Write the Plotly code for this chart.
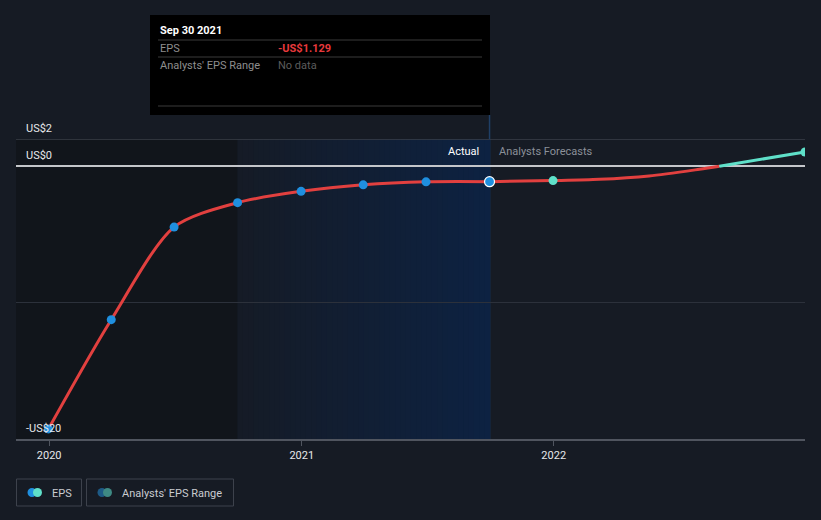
import plotly.graph_objects as go
import pandas as pd

# ---------------- data ----------------
actual_dates = ["2019-12-31", "2020-03-31", "2020-06-30", "2020-09-30",
                "2020-12-31", "2021-03-31", "2021-06-30", "2021-09-30"]
actual_eps = [-19.26, -11.25, -4.46, -2.67, -1.84, -1.36, -1.14, -1.129]

# forecast curve: negative part red, positive part cyan
fc_neg_dates = ["2021-09-30", "2021-12-31", "2022-03-08", "2022-05-19", "2022-07-31", "2022-08-29"]
fc_neg_eps = [-1.129, -1.05, -0.96, -0.71, -0.22, 0.0]
fc_pos_dates = ["2022-08-29", "2022-12-31"]
fc_pos_eps = [0.0, 1.05]
fc_marker_dates = ["2021-12-31", "2022-12-31"]
fc_marker_eps = [-1.05, 1.05]

y_ticks = [2, 0, -20]
y_tick_labels = ["US$2", "US$0", "-US$20"]
y_grid = [2, -10]
x_ticks = ["2020-01-01", "2021-01-01", "2022-01-01"]
x_tick_labels = ["2020", "2021", "2022"]

x_range = ["2019-11-14", "2022-12-31"]
y_range = [-20, 2]

# ---------------- styling ----------------
BG = "#161b24"
LEFT_BAND = "#11151b"
RED = "#e2403f"
BLUE = "#1f8fdf"
CYAN = "#5fe0c9"
FONT = "Roboto"

W, H = 821, 520
ML, MR, MT, MB = 16, 16, 139, 81
PW, PH = W - ML - MR, H - MT - MB


def px(x):
    return (x - ML) / PW


def py(y):
    return (H - MB - y) / PH


def mix(c1, c2, t):
    a = [int(c1[i:i + 2], 16) for i in (1, 3, 5)]
    b = [int(c2[i:i + 2], 16) for i in (1, 3, 5)]
    return "#%02x%02x%02x" % tuple(round(a[k] + (b[k] - a[k]) * t) for k in range(3))


fig = go.Figure()

# actual EPS
fig.add_trace(go.Scatter(
    x=actual_dates, y=actual_eps, mode="lines",
    line=dict(color=RED, width=3, shape="spline", smoothing=0.8),
    hoverinfo="skip", showlegend=False))

# forecast (negative, red)
fig.add_trace(go.Scatter(
    x=fc_neg_dates, y=fc_neg_eps, mode="lines",
    line=dict(color=RED, width=3, shape="spline", smoothing=0.8),
    hoverinfo="skip", showlegend=False))
# forecast (positive, cyan)
fig.add_trace(go.Scatter(
    x=fc_pos_dates, y=fc_pos_eps, mode="lines",
    line=dict(color=CYAN, width=3),
    hoverinfo="skip", showlegend=False))

# actual markers
fig.add_trace(go.Scatter(
    x=actual_dates[:-1], y=actual_eps[:-1], mode="markers",
    marker=dict(color=BLUE, size=9),
    hoverinfo="skip", showlegend=False))
fig.add_trace(go.Scatter(
    x=actual_dates[-1:], y=actual_eps[-1:], mode="markers",
    marker=dict(color=BLUE, size=10, line=dict(color="#ffffff", width=1.2)),
    hoverinfo="skip", showlegend=False))
# forecast markers
fig.add_trace(go.Scatter(
    x=fc_marker_dates, y=fc_marker_eps, mode="markers",
    marker=dict(color=CYAN, size=9),
    hoverinfo="skip", showlegend=False))

shapes = []
band_x0, band_x1 = actual_dates[3], actual_dates[-1]
# left darker band
shapes.append(dict(type="rect", xref="x", yref="y", x0=x_range[0], x1=band_x0,
                   y0=y_range[0], y1=y_range[1], fillcolor=LEFT_BAND,
                   line=dict(width=0), layer="below"))
# highlighted last-12-months band as gradient strips
N = 48
edges = pd.date_range(pd.Timestamp(band_x0), pd.Timestamp(band_x1), periods=N + 1)
for i in range(N):
    shapes.append(dict(type="rect", xref="x", yref="y",
                       x0=edges[i], x1=edges[i + 1] + pd.Timedelta(days=1),
                       y0=y_range[0], y1=y_range[1],
                       fillcolor=mix("#151b26", "#0d2242", (i + 0.5) / N),
                       line=dict(width=0), layer="below"))
# hover line
shapes.append(dict(type="line", xref="x", yref="paper", x0=band_x1, x1=band_x1,
                   y0=0, y1=py(115), line=dict(color="#1f3f66", width=1.5), layer="below"))
# top gridline (at the plot edge)
shapes.append(dict(type="line", xref="paper", yref="y", x0=0, x1=1, y0=y_grid[0], y1=y_grid[0],
                   line=dict(color="#3a3f49", width=1.5), layer="above"))

# tooltip box
shapes.append(dict(type="rect", xref="paper", yref="paper", x0=px(150), x1=px(490),
                   y0=py(115), y1=py(15), fillcolor="#000000", line=dict(width=0), layer="above"))
for yy in (40, 57, 106):
    shapes.append(dict(type="line", xref="paper", yref="paper", x0=px(158), x1=px(482),
                       y0=py(yy), y1=py(yy), line=dict(color="#3a3a3a", width=1), layer="above"))

# legend boxes
shapes.append(dict(type="rect", xref="paper", yref="paper", x0=px(16.5), x1=px(81.5),
                   y0=py(506), y1=py(479), line=dict(color="#3d424c", width=1), layer="above"))
shapes.append(dict(type="rect", xref="paper", yref="paper", x0=px(86.5), x1=px(233.5),
                   y0=py(506), y1=py(479), line=dict(color="#3d424c", width=1), layer="above"))
# legend icons
for cx, col in ((32, BLUE), (37.5, CYAN), (102, "#1d5a86"), (107.5, "#3e8a84")):
    shapes.append(dict(type="circle", xref="paper", yref="paper",
                       x0=px(cx - 4.5), x1=px(cx + 4.5), y0=py(497), y1=py(488),
                       fillcolor=col, line=dict(width=0), layer="above"))

annotations = []
# y tick labels
for v, t in zip(y_ticks, y_tick_labels):
    annotations.append(dict(x=px(24), y=v, xref="paper", yref="y", text=t,
                            showarrow=False, xanchor="left", yanchor="bottom", yshift=2,
                            font=dict(family=FONT, size=11, color="#e6e8eb")))

annotations.append(dict(x=px(481), y=py(151), xref="paper", yref="paper", text="Actual",
                        showarrow=False, xanchor="right", yanchor="middle",
                        font=dict(family=FONT, size=11, color="#ffffff")))
annotations.append(dict(x=px(497), y=py(151), xref="paper", yref="paper", text="Analysts Forecasts",
                        showarrow=False, xanchor="left", yanchor="middle",
                        font=dict(family=FONT, size=11, color="#8b9099")))

# tooltip texts
annotations.append(dict(x=px(158), y=py(31), xref="paper", yref="paper", text="<b>Sep 30 2021</b>",
                        showarrow=False, xanchor="left", yanchor="middle",
                        font=dict(family=FONT, size=11, color="#ffffff")))
annotations.append(dict(x=px(158), y=py(48), xref="paper", yref="paper", text="EPS",
                        showarrow=False, xanchor="left", yanchor="middle",
                        font=dict(family=FONT, size=11, color="#8e8e8e")))
annotations.append(dict(x=px(276), y=py(48), xref="paper", yref="paper", text="<b>-US$1.129</b>",
                        showarrow=False, xanchor="left", yanchor="middle",
                        font=dict(family=FONT, size=11, color="#e8393c")))
annotations.append(dict(x=px(158), y=py(65), xref="paper", yref="paper", text="Analysts' EPS Range",
                        showarrow=False, xanchor="left", yanchor="middle",
                        font=dict(family=FONT, size=11, color="#8e8e8e")))
annotations.append(dict(x=px(276), y=py(65), xref="paper", yref="paper", text="No data",
                        showarrow=False, xanchor="left", yanchor="middle",
                        font=dict(family=FONT, size=11, color="#5c5c5c")))

# legend texts
annotations.append(dict(x=px(50), y=py(493), xref="paper", yref="paper", text="EPS",
                        showarrow=False, xanchor="left", yanchor="middle",
                        font=dict(family=FONT, size=11, color="#c9ccd1")))
annotations.append(dict(x=px(120), y=py(493), xref="paper", yref="paper", text="Analysts' EPS Range",
                        showarrow=False, xanchor="left", yanchor="middle",
                        font=dict(family=FONT, size=11, color="#c9ccd1")))

fig.update_layout(
    width=W, height=H,
    margin=dict(l=ML, r=MR, t=MT, b=MB, pad=0),
    paper_bgcolor=BG, plot_bgcolor=BG,
    showlegend=False,
    shapes=shapes, annotations=annotations,
    xaxis=dict(type="date", range=x_range, showgrid=False, zeroline=False,
               tickvals=x_ticks, ticktext=x_tick_labels,
               ticks="outside", ticklen=5, tickcolor="#50555f", tickwidth=1,
               showline=True, linecolor="#50555f", linewidth=1.5,
               tickfont=dict(family=FONT, size=11, color="#e6e8eb"), fixedrange=True),
    yaxis=dict(range=y_range, showgrid=True, gridcolor="#2c313b", gridwidth=1,
               tickvals=y_grid, showticklabels=False, ticks="",
               zeroline=True, zerolinecolor="#c4c6ca", zerolinewidth=1.5,
               showline=False, fixedrange=True),
    hovermode=False,
)

fig.write_html("out.html")
